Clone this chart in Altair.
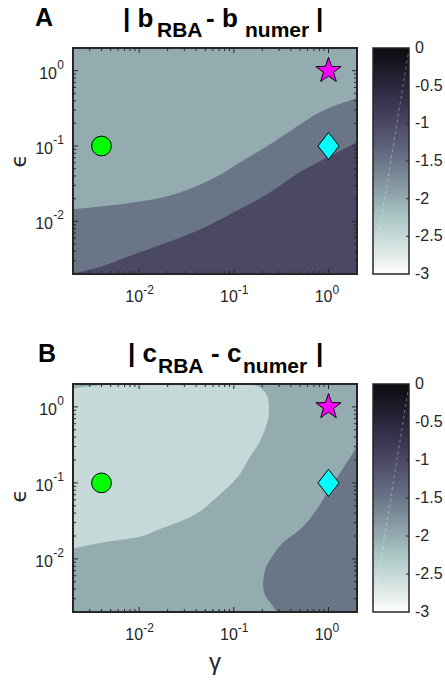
import altair as alt
import pandas as pd

FONT = "Liberation Sans"
INK = "#262626"

# ---------------- data ----------------
x_domain = [0.002, 2.0]          # gamma axis range
y_domain = [0.002, 2.0]          # epsilon axis range
cb_domain = [-3.0, 0.0]          # colour bar range (log10 error)

major_ticks = [0.01, 0.1, 1.0]
major_exps = ["-2", "-1", "0"]
minor_ticks = [0.003, 0.004, 0.005, 0.006, 0.007, 0.008, 0.009,
               0.02, 0.03, 0.04, 0.05, 0.06, 0.07, 0.08, 0.09,
               0.2, 0.3, 0.4, 0.5, 0.6, 0.7, 0.8, 0.9]
cb_ticks = [0.0, -0.5, -1.0, -1.5, -2.0, -2.5, -3.0]
cb_labels = ["0", "-0.5", "-1", "-1.5", "-2", "-2.5", "-3"]

cb_stop_values = [-3.0, -2.75, -2.5, -2.25, -2.0, -1.75, -1.5, -1.25, -1.0, -0.75, -0.5, -0.25, 0.0]
cb_stop_colors = ["#ffffff", "#e1ebe9", "#c5d9d8", "#abc6c3", "#94abb0", "#7f909c", "#6a7588",
                  "#5a5c77", "#4b4866", "#3a3651", "#29273b", "#1a1925", "#0b0b10"]

marker_gamma = [0.004, 1.0, 1.0]
marker_eps = [0.1, 0.1, 1.0]
marker_kind = ["circle", "diamond", "star"]

# panel A: filled contour levels (background, middle band, dark band)
A_levels = [-2.0, -1.5, -1.0]
A_mid_gamma = [0.002, 0.0089, 0.020, 0.0377, 0.067, 0.117, 0.224, 0.42, 0.81, 2.0]
A_mid_eps = [0.0145, 0.0179, 0.0215, 0.0283, 0.0396, 0.061, 0.099, 0.167, 0.28, 0.43]
A_dark_gamma = [0.002, 0.004, 0.0089, 0.020, 0.0446, 0.1, 0.224, 0.497, 0.98, 2.0]
A_dark_eps = [0.00204, 0.00252, 0.00365, 0.00526, 0.00783, 0.0132, 0.0229, 0.0448, 0.0708, 0.112]

# panel B: background, light region, dark region
B_levels = [-2.0, -2.5, -1.5]
B_light_eps = [0.01355, 0.0163, 0.0189, 0.0242, 0.0359, 0.0659, 0.121, 0.222, 0.321, 0.506,
               0.686, 0.929, 1.26, 1.71, 1.93, 2.0]
B_light_left = [0.002, 0.002, 0.002, 0.002, 0.002, 0.002, 0.002, 0.002, 0.002, 0.002,
                0.002, 0.002, 0.002, 0.002, 0.004, 0.0098]
B_light_right = [0.002, 0.0040, 0.0089, 0.0158, 0.0351, 0.067, 0.111, 0.149, 0.181, 0.214,
                 0.230, 0.235, 0.230, 0.199, 0.165, 0.145]
B_dark_eps = [0.002, 0.00247, 0.00334, 0.00454, 0.00716, 0.0106, 0.0163, 0.0242, 0.0443, 0.0816, 0.150, 0.302]
B_dark_gamma = [0.286, 0.253, 0.214, 0.204, 0.214, 0.253, 0.33, 0.497, 0.748, 1.02, 1.40, 2.0]

A_title = ["| b", "RBA", "- b", "numer", "|"]
B_title = ["| c", "RBA", "- c", "numer", "|"]

# ---------------- layout (pixels) ----------------
PLOT_X = [73, 357]
A_Y = [274, 48]
B_Y = [612, 384]
CB_X = [373, 409]

SHAPE = {
    "circle": "circle",
    "diamond": "M0,-1L0.78,0L0,1L-0.78,0Z",
    "star": "M0,-1L0.235,-0.324L0.951,-0.309L0.38,0.124L0.588,0.809L0,0.4L-0.588,0.809L-0.38,0.124L-0.951,-0.309L-0.235,-0.324Z",
}
SIZE = {"circle": 390, "diamond": 729, "star": 700}
FILL = {"circle": "#00ff00", "diamond": "#00ffff", "star": "#ff00ff"}


def xsc():
    return alt.Scale(type="log", domain=x_domain, range=PLOT_X, nice=False)


def ysc(yr):
    return alt.Scale(type="log", domain=y_domain, range=yr, nice=False)


def csc(yr):
    return alt.Scale(type="linear", domain=cb_domain, range=yr, nice=False, zero=False)


def colsc():
    return alt.Scale(type="linear", domain=cb_stop_values, range=cb_stop_colors, interpolate="rgb")


def X(f):
    return alt.X(f, scale=xsc(), axis=None)


def Y(f, yr):
    return alt.Y(f, scale=ysc(yr), axis=None)


def C(f):
    return alt.Color(f, scale=colsc(), legend=None)


def frame_df():
    return pd.DataFrame({"x0": [x_domain[0]], "x1": [x_domain[1]],
                         "y0": [y_domain[0]], "y1": [y_domain[1]]})


def background(yr, lvl):
    df = frame_df()
    df["lvl"] = lvl
    return alt.Chart(df).mark_rect().encode(
        x=X("x0:Q"), x2="x1:Q", y=Y("y0:Q", yr), y2="y1:Q", color=C("lvl:Q"))


def area_below(yr, gam, eps, lvl):
    df = pd.DataFrame({"g": gam, "e": eps})
    df["base"] = y_domain[0]
    df["lvl"] = lvl
    return alt.Chart(df).mark_area(interpolate="monotone").encode(
        x=X("g:Q"), y=Y("e:Q", yr), y2="base:Q", color=C("lvl:Q"))


def area_horiz(yr, eps, left, right, lvl):
    df = pd.DataFrame({"e": eps, "l": left, "r": right})
    df["lvl"] = lvl
    return alt.Chart(df).mark_area(orient="horizontal", interpolate="monotone").encode(
        y=Y("e:Q", yr), x=X("l:Q"), x2="r:Q", color=C("lvl:Q"))


def border(yr):
    return alt.Chart(frame_df()).mark_rect(fill="white", fillOpacity=0, stroke=INK, strokeWidth=2).encode(
        x=X("x0:Q"), x2="x1:Q", y=Y("y0:Q", yr), y2="y1:Q")


def ticks(yr, vals, length):
    df = pd.DataFrame({"v": vals})
    df["lo"] = y_domain[0]
    df["hi"] = y_domain[1]
    df["le"] = x_domain[0]
    df["ri"] = x_domain[1]
    base = alt.Chart(df)
    kw = dict(color=INK, strokeWidth=1)
    return [
        base.mark_rule(y2Offset=-length, **kw).encode(x=X("v:Q"), y=Y("lo:Q", yr), y2="lo:Q"),
        base.mark_rule(y2Offset=length, **kw).encode(x=X("v:Q"), y=Y("hi:Q", yr), y2="hi:Q"),
        base.mark_rule(x2Offset=length, **kw).encode(y=Y("v:Q", yr), x=X("le:Q"), x2="le:Q"),
        base.mark_rule(x2Offset=-length, **kw).encode(y=Y("v:Q", yr), x=X("ri:Q"), x2="ri:Q"),
    ]


def markers(yr):
    df = pd.DataFrame({"g": marker_gamma, "e": marker_eps, "kind": marker_kind})
    out = []
    for kind in marker_kind:
        out.append(
            alt.Chart(df).transform_filter(alt.datum.kind == kind).mark_point(
                shape=SHAPE[kind], filled=True, fill=FILL[kind], stroke="#000000",
                strokeWidth=1, size=SIZE[kind], opacity=1
            ).encode(x=X("g:Q"), y=Y("e:Q", yr))
        )
    return out


def tick_labels(yr):
    df = pd.DataFrame({"v": major_ticks, "exp": major_exps})
    df["base"] = "10"
    df["lo"] = y_domain[0]
    df["le"] = x_domain[0]
    tk = dict(font=FONT, color=INK, baseline="alphabetic")
    c = alt.Chart(df)
    return [
        c.mark_text(align="right", dx=4, dy=28, fontSize=16, **tk).encode(
            x=X("v:Q"), y=Y("lo:Q", yr), text="base:N"),
        c.mark_text(align="left", dx=4, dy=20, fontSize=12, **tk).encode(
            x=X("v:Q"), y=Y("lo:Q", yr), text="exp:N"),
        c.mark_text(align="right", dx=-9, dy=-2, fontSize=12, **tk).encode(
            x=X("le:Q"), y=Y("v:Q", yr), text="exp:N"),
        c.transform_filter("datum.exp != '0'").mark_text(align="right", dx=-20, dy=8, fontSize=16, **tk).encode(
            x=X("le:Q"), y=Y("v:Q", yr), text="base:N"),
        c.transform_filter("datum.exp == '0'").mark_text(align="right", dx=-16, dy=8, fontSize=16, **tk).encode(
            x=X("le:Q"), y=Y("v:Q", yr), text="base:N"),
    ]


def colorbar(yr):
    span = cb_domain[1] - cb_domain[0]
    grad = alt.LinearGradient(
        gradient="linear",
        stops=[alt.GradientStop(color=c, offset=(v - cb_domain[0]) / span)
               for v, c in zip(cb_stop_values, cb_stop_colors)],
        x1=0, x2=0, y1=1, y2=0,
    )
    df = pd.DataFrame({"lo": [cb_domain[0]], "hi": [cb_domain[1]]})
    rect = alt.Chart(df).mark_rect(color=grad, stroke=INK, strokeWidth=1.5).encode(
        x=alt.value(CB_X[0]), x2=alt.value(CB_X[1]),
        y=alt.Y("lo:Q", scale=csc(yr), axis=None), y2="hi:Q")
    diag = alt.Chart(pd.DataFrame({"a": [-2.72], "b": [-0.09]})).mark_rule(
        color="white", opacity=0.35, strokeWidth=1, strokeDash=[3, 3]).encode(
        x=alt.value(CB_X[0] + 3), x2=alt.value(CB_X[1] - 1),
        y=alt.Y("a:Q", scale=csc(yr), axis=None), y2="b:Q")
    tdf = pd.DataFrame({"v": cb_ticks, "lab": cb_labels})
    tk = alt.Chart(tdf[(tdf.v > cb_domain[0]) & (tdf.v < cb_domain[1])]).mark_rule(color=INK, strokeWidth=1).encode(
        x=alt.value(CB_X[1]), x2=alt.value(CB_X[1] - 3),
        y=alt.Y("v:Q", scale=csc(yr), axis=None))
    labs = alt.Chart(tdf).mark_text(align="left", baseline="middle", fontSize=16, font=FONT, color=INK).encode(
        x=alt.value(CB_X[1] + 6), y=alt.Y("v:Q", scale=csc(yr), axis=None), text="lab:N")
    return [rect, diag, tk, labs]


def text_at(t, x, y, size, bold=False, angle=None, align="left", baseline="alphabetic", font=FONT, color="#000000"):
    kw = dict(align=align, baseline=baseline, fontSize=size, font=font, color=color)
    if bold:
        kw["fontWeight"] = "bold"
    if angle is not None:
        kw["angle"] = angle
    return alt.Chart(pd.DataFrame({"t": [t]})).mark_text(**kw).encode(
        x=alt.value(x), y=alt.value(y), text="t:N")


def title(parts, xs_px, base_main, base_sub):
    out = []
    for i, (p, x) in enumerate(zip(parts, xs_px)):
        sub = i in (1, 3)
        out.append(text_at(p, x, base_sub if sub else base_main, 21 if sub else 26, bold=True))
    return out


layers = []
# ---- panel A ----
layers += [background(A_Y, A_levels[0]),
           area_below(A_Y, A_mid_gamma, A_mid_eps, A_levels[1]),
           area_below(A_Y, A_dark_gamma, A_dark_eps, A_levels[2]),
           border(A_Y)]
layers += ticks(A_Y, major_ticks, 5) + ticks(A_Y, minor_ticks, 3)
layers += markers(A_Y)
layers += tick_labels(A_Y)
layers += colorbar(A_Y)
layers += title(A_title, [123, 157, 206, 245, 316], 27, 37)
layers.append(text_at("A", 35, 26, 25, bold=True))
layers.append(text_at("ϵ", 19, 161, 22, angle=270, align="center", baseline="middle", font="DejaVu Sans", color=INK))

# ---- panel B ----
layers += [background(B_Y, B_levels[0]),
           area_horiz(B_Y, B_light_eps, B_light_left, B_light_right, B_levels[1]),
           area_horiz(B_Y, B_dark_eps, B_dark_gamma, [x_domain[1]] * len(B_dark_eps), B_levels[2]),
           border(B_Y)]
layers += ticks(B_Y, major_ticks, 5) + ticks(B_Y, minor_ticks, 3)
layers += markers(B_Y)
layers += tick_labels(B_Y)
layers += colorbar(B_Y)
layers += title(B_title, [128, 158, 211, 243, 316], 362, 373)
layers.append(text_at("B", 38, 362, 25, bold=True))
layers.append(text_at("ϵ", 19, 496, 22, angle=270, align="center", baseline="middle", font="DejaVu Sans", color=INK))
layers.append(text_at("γ", 215, 670, 24, align="center", color=INK))

chart = alt.layer(*layers).resolve_scale(
    x="independent", y="independent", color="independent"
).properties(
    width=445, height=682, autosize=alt.AutoSizeParams(type="none"), padding=0, background="white"
).configure_view(strokeWidth=0)

chart.save("out.html", embed_options={"renderer": "svg", "actions": False})
